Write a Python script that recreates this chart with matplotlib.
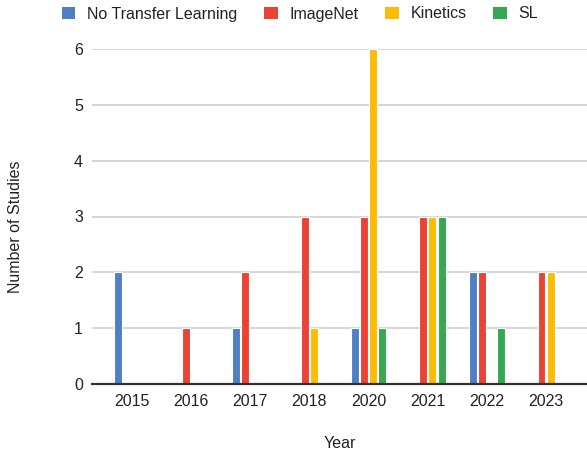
import matplotlib.pyplot as plt
from matplotlib.patches import Patch
import numpy as np

plt.rcParams['font.family'] = ['Liberation Sans', 'DejaVu Sans']

years = ["2015", "2016", "2017", "2018", "2020", "2021", "2022", "2023"]
series_names = ["No Transfer Learning", "ImageNet", "Kinetics", "SL"]
no_transfer = [2, 0, 1, 0, 1, 0, 2, 0]
imagenet = [0, 1, 2, 3, 3, 3, 2, 2]
kinetics = [0, 0, 0, 1, 6, 3, 0, 2]
sl = [0, 0, 0, 0, 1, 3, 1, 0]
series_values = [no_transfer, imagenet, kinetics, sl]
colors = ["#5080c4", "#ea4335", "#fbbc04", "#34a853"]
y_ticks = [0, 1, 2, 3, 4, 5, 6]

W, H = 587, 454
fig = plt.figure(figsize=(W / 100, H / 100), dpi=100)
ax = fig.add_axes([92 / W, 70 / H, 495 / W, 335 / H])

x = np.arange(len(years))
step = 0.157
bw = 0.135
for i, (vals, c) in enumerate(zip(series_values, colors)):
    ax.bar(x + (i - 1.5) * step, vals, width=bw, color=c,
           edgecolor="white", linewidth=0.8, zorder=3)

ax.set_xlim(-0.67, 7.69)
ax.set_ylim(0, 6)
ax.set_yticks(y_ticks)
ax.set_xticks(x)
ax.set_xticklabels(years)
ax.tick_params(axis='both', length=0, labelsize=11.5, colors="#222222")
ax.tick_params(axis='y', pad=6.5)
ax.tick_params(axis='x', pad=7)
for s in ax.spines.values():
    s.set_visible(False)
ax.grid(axis='y', color="#cccccc", linewidth=1.1, zorder=0)
ax.set_axisbelow(True)
ax.axhline(0, color="#333333", linewidth=1.6, zorder=5, clip_on=False)

fig.text(16 / W, 1 - 227 / H, "Number of Studies", rotation=90,
         ha='center', va='center', fontsize=11.5, color="#222222")
fig.text(340 / W, 1 - 443 / H, "Year", ha='center', va='center',
         fontsize=11.5, color="#222222")

handles = [Patch(facecolor=c, edgecolor='none') for c in colors]
fig.legend(handles, series_names, loc='center', bbox_to_anchor=(300 / W, 1 - 14 / H),
           ncol=4, frameon=False, fontsize=11.5, handlelength=0.85, handleheight=0.85,
           handletextpad=0.75, columnspacing=1.65, labelcolor="#222222")

fig.savefig("out.png", dpi=100)
